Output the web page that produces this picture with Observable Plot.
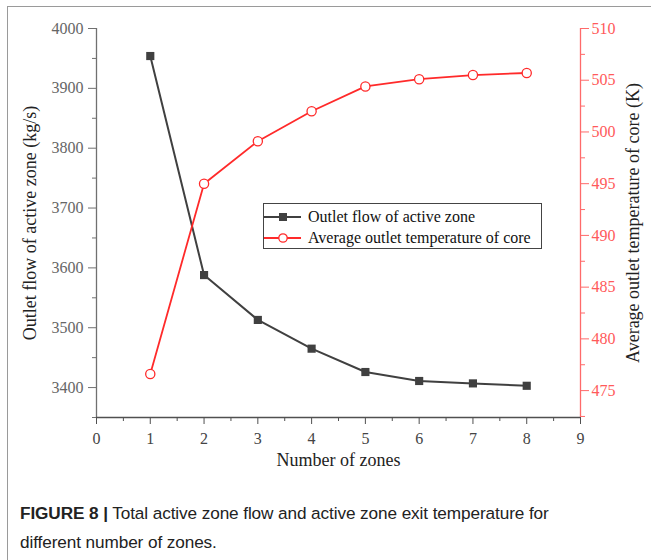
<!DOCTYPE html>
<html>
<head>
<meta charset="utf-8">
<script src="https://cdn.jsdelivr.net/npm/d3@7"></script>
<script src="https://cdn.jsdelivr.net/npm/@observablehq/plot@0.6"></script>
<style>
  html, body { margin: 0; padding: 0; background: #fff; }
  #page { position: relative; width: 651px; height: 560px; overflow: hidden; background: #fff; }
  #frame { position: absolute; left: 7px; top: 6px; width: 700px; height: 600px;
           border-left: 1px solid #9a9a9a; border-top: 1px solid #9a9a9a; pointer-events: none; }
  #chart { position: absolute; left: 0; top: 0; }
  #legend { position: absolute; left: 263px; top: 203px; width: 277px; height: 44px;
            border: 1px solid #444; background: #fff; font-family: "Liberation Serif", "Times New Roman", serif;
            font-size: 16px; color: #111; }
  #legend .row { position: absolute; left: 0; height: 20px; display: flex; align-items: center; }
  #legend svg { display: block; }
  #caption { position: absolute; left: 20px; top: 499px; width: 620px;
             font-family: "Liberation Sans", Arial, sans-serif;
             font-size: 17.2px; line-height: 29px; color: #222; letter-spacing: -0.1px; }
  #caption b { font-weight: bold; }
</style>
</head>
<body>
<div id="page">
  <div id="chart"></div>
  <div id="legend"></div>
  <div id="frame"></div>
  <div id="caption"><b>FIGURE 8 |</b> Total active zone flow and active zone exit temperature for<br>different number of zones.</div>
</div>
<script>
// ---- data ----
const zones = [1, 2, 3, 4, 5, 6, 7, 8];
const outletFlow = [3954, 3588, 3513, 3465, 3426, 3411, 3407, 3403];
const avgTemp = [476.6, 495.0, 499.1, 502.0, 504.4, 505.1, 505.5, 505.7];
const seriesNames = ["Outlet flow of active zone", "Average outlet temperature of core"];
const xTicks = [0, 1, 2, 3, 4, 5, 6, 7, 8, 9];
const flowTicks = [3400, 3500, 3600, 3700, 3800, 3900, 4000];
const tempTicks = [475, 480, 485, 490, 495, 500, 505, 510];
const xLabel = "Number of zones";
const yLabel = "Outlet flow of active zone (kg/s)";
const y2Label = "Average outlet temperature of core (K)";

// ---- scales ----
const flowDomain = [3350, 4000];
const tempDomain = [472.4, 510];
const toY = t => flowDomain[0] + (t - tempDomain[0]) / (tempDomain[1] - tempDomain[0]) * (flowDomain[1] - flowDomain[0]);
const fromY = y => tempDomain[0] + (y - flowDomain[0]) / (flowDomain[1] - flowDomain[0]) * (tempDomain[1] - tempDomain[0]);

const flowData = zones.map((z, i) => ({x: z, y: outletFlow[i]}));
const tempData = zones.map((z, i) => ({x: z, y: toY(avgTemp[i])}));

const GRAY = "#404040";
const RED = "#ff2a2a";
const serif = "Liberation Serif, Times New Roman, serif";

const flowMinor = d3.range(3350, 4001, 50).filter(v => v % 100 !== 0);
const tempMinor = d3.range(472.5, 510, 2.5).filter(v => v % 5 !== 0).map(toY);
const xMinor = d3.range(0.5, 9, 1);

const chart = Plot.plot({
  width: 651,
  height: 480,
  marginLeft: 96,
  marginRight: 71,
  marginTop: 28,
  marginBottom: 63,
  style: {fontFamily: serif, background: "transparent"},
  x: {domain: [0, 9]},
  y: {domain: flowDomain},
  marks: [
    // axis lines
    Plot.ruleX([0], {stroke: "#707070", strokeWidth: 1.3}),
    Plot.ruleX([9], {stroke: "#ff6a6a", strokeWidth: 1.3}),
    Plot.ruleY([flowDomain[0]], {stroke: "#505050", strokeWidth: 1.3}),
    // x axis
    Plot.axisX(xTicks, {tickSize: 7, tickPadding: 8, stroke: "#505050", fill: "#444", fontSize: 16, fontFamily: serif, tickFormat: d => String(d), label: null}),
    Plot.axisX(xMinor, {tickSize: 4, tickFormat: () => "", stroke: "#505050", label: null}),
    // left axis
    Plot.axisY(flowTicks, {anchor: "left", tickSize: 8, tickPadding: 5, stroke: "#707070", fill: "#666", fontSize: 16, fontFamily: serif, tickFormat: d => String(d), label: null}),
    Plot.axisY(flowMinor, {anchor: "left", tickSize: 4, tickFormat: () => "", stroke: "#707070", label: null}),
    // right axis
    Plot.axisY(tempTicks.map(toY), {anchor: "right", tickSize: 8, tickPadding: 3, stroke: "#ff6a6a", fill: "#ff5a5a", fontSize: 16, fontFamily: serif, tickFormat: d => String(Math.round(fromY(d))), label: null}),
    Plot.axisY(tempMinor, {anchor: "right", tickSize: 4, tickFormat: () => "", stroke: "#ff6a6a", label: null}),
    // axis titles
    Plot.text([xLabel], {frameAnchor: "bottom", dy: 48, fontSize: 18, fill: "#222", fontFamily: serif}),
    Plot.text([yLabel], {frameAnchor: "left", textAnchor: "middle", dx: -66, rotate: -90, fontSize: 18, fill: "#222", fontFamily: serif}),
    Plot.text([y2Label], {frameAnchor: "right", textAnchor: "middle", dx: 53, rotate: -90, fontSize: 18, fill: "#222", fontFamily: serif}),
    // series
    Plot.line(flowData, {x: "x", y: "y", stroke: GRAY, strokeWidth: 2}),
    Plot.dot(flowData, {x: "x", y: "y", symbol: "square", r: 4.6, fill: GRAY, stroke: "none"}),
    Plot.line(tempData, {x: "x", y: "y", stroke: RED, strokeWidth: 1.8}),
    Plot.dot(tempData, {x: "x", y: "y", symbol: "circle", r: 4.6, fill: "white", stroke: RED, strokeWidth: 1.3})
  ]
});
document.getElementById("chart").appendChild(chart);

// ---- legend ----
const legend = document.getElementById("legend");
const swatches = [
  {name: seriesNames[0], color: GRAY, square: true},
  {name: seriesNames[1], color: RED, square: false}
];
swatches.forEach((s, i) => {
  const row = document.createElement("div");
  row.className = "row";
  row.style.top = (3 + i * 21) + "px";
  const marker = s.square
    ? `<rect x="15" y="6" width="8" height="8" fill="${s.color}"/>`
    : `<circle cx="19" cy="10" r="4.2" fill="white" stroke="${s.color}" stroke-width="1.3"/>`;
  row.innerHTML = `<svg width="38" height="20"><line x1="0" x2="37" y1="10" y2="10" stroke="${s.color}" stroke-width="2"/>${marker}</svg><span style="margin-left:6px;white-space:nowrap">${s.name}</span>`;
  legend.appendChild(row);
});
</script>
</body>
</html>
